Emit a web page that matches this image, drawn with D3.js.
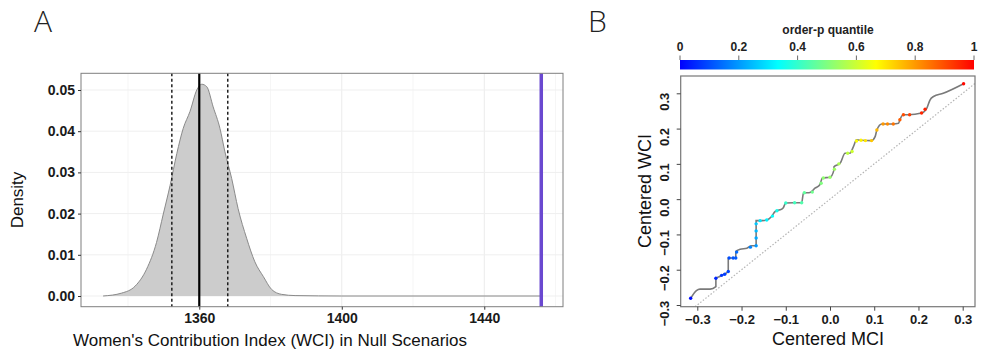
<!DOCTYPE html>
<html>
<head>
<meta charset="utf-8">
<script src="https://cdn.jsdelivr.net/npm/d3@7"></script>
<style>
  body { margin: 0; background: #fff; }
  svg { display: block; font-family: "Liberation Sans", Arial, sans-serif; }
</style>
</head>
<body>
<svg id="chart" width="987" height="352"></svg>
<script>
// ---- panel A data: null distribution of WCI ----
const densityX = [1333.0, 1338.2, 1342.0, 1345.2, 1348.0, 1349.9, 1351.8, 1353.7, 1355.5, 1357.4, 1359.3, 1360.7, 1362.1, 1363.9, 1365.8, 1367.2, 1369.1, 1370.9, 1373.3, 1375.6, 1378.0, 1380.3, 1383.1, 1386.9, 1400, 1456];
const densityY = [0, 0.0007, 0.0024, 0.0065, 0.0130, 0.0199, 0.0268, 0.0346, 0.0407, 0.0448, 0.0500, 0.0514, 0.0508, 0.0459, 0.0407, 0.0350, 0.0285, 0.0212, 0.0140, 0.0083, 0.0047, 0.0016, 0.0004, 0.0001, 0, 0];
const nullMean = 1360;
const nullCI = [1352.3, 1368];
const observedWCI = 1456;
const xTicksA = [1360, 1400, 1440];
const xMinorA = [1340, 1380, 1420, 1460];
const yTicksA = [0, 0.01, 0.02, 0.03, 0.04, 0.05];

// ---- panel B data: centered WCI vs centered MCI ----
const qqX = [-0.315, -0.302, -0.294, -0.271, -0.258, -0.258, -0.249, -0.240, -0.230, -0.230, -0.219, -0.213, -0.213, -0.203, -0.188, -0.177, -0.167, -0.167, -0.158, -0.143, -0.132, -0.124, -0.113, -0.106, -0.100, -0.083, -0.064, -0.060, -0.045, -0.034, -0.023, -0.017, 0.000, 0.009, 0.009, 0.023, 0.034, 0.045, 0.053, 0.060, 0.068, 0.094, 0.102, 0.106, 0.117, 0.143, 0.155, 0.158, 0.166, 0.177, 0.207, 0.219, 0.226, 0.234, 0.256, 0.302];
const qqY = [-0.281, -0.259, -0.255, -0.255, -0.248, -0.224, -0.219, -0.213, -0.205, -0.167, -0.167, -0.167, -0.148, -0.142, -0.139, -0.132, -0.132, -0.061, -0.061, -0.059, -0.049, -0.035, -0.030, -0.025, -0.011, -0.010, -0.010, 0.017, 0.019, 0.031, 0.041, 0.060, 0.062, 0.083, 0.092, 0.102, 0.130, 0.130, 0.149, 0.168, 0.167, 0.166, 0.177, 0.196, 0.213, 0.213, 0.215, 0.225, 0.239, 0.239, 0.244, 0.258, 0.281, 0.291, 0.300, 0.327];
// coloured points (x, y, order-p quantile)
const dotX = [-0.315, -0.258, -0.245, -0.238, -0.230, -0.228, -0.219, -0.213, -0.211, -0.180, -0.167, -0.167, -0.167, -0.167, -0.158, -0.143, -0.130, -0.120, -0.100, -0.080, -0.064, -0.058, -0.040, -0.020, -0.015, 0.000, 0.010, 0.020, 0.040, 0.050, 0.060, 0.070, 0.080, 0.094, 0.106, 0.120, 0.130, 0.143, 0.158, 0.166, 0.180, 0.207, 0.215, 0.302];
const dotY = [-0.281, -0.224, -0.216, -0.213, -0.205, -0.167, -0.167, -0.167, -0.150, -0.136, -0.132, -0.110, -0.090, -0.070, -0.061, -0.059, -0.048, -0.033, -0.011, -0.010, -0.010, 0.018, 0.020, 0.045, 0.060, 0.062, 0.085, 0.100, 0.130, 0.135, 0.165, 0.167, 0.166, 0.166, 0.196, 0.213, 0.213, 0.213, 0.225, 0.239, 0.239, 0.244, 0.255, 0.327];
const dotP = [0.02, 0.05, 0.07, 0.08, 0.09, 0.10, 0.11, 0.12, 0.14, 0.17, 0.20, 0.22, 0.24, 0.26, 0.30, 0.32, 0.34, 0.36, 0.40, 0.42, 0.44, 0.46, 0.48, 0.50, 0.52, 0.53, 0.54, 0.56, 0.58, 0.60, 0.66, 0.68, 0.70, 0.74, 0.76, 0.80, 0.82, 0.85, 0.88, 0.90, 0.92, 0.95, 0.96, 0.99];
const ticksB = [-0.3, -0.2, -0.1, 0.0, 0.1, 0.2, 0.3];
const legendTicks = [0, 0.2, 0.4, 0.6, 0.8, 1];

const svg = d3.select('#chart');

// ================= Panel A =================
const boxA = { left: 81, right: 563, top: 73.3, bottom: 306.7 };
const xA = d3.scaleLinear().domain([1326.8, 1462.1]).range([boxA.left, boxA.right]);
const yA = d3.scaleLinear().domain([0, 0.05]).range([296, 90]);

svg.append('text').attr('x', 34).attr('y', 32)
  .attr('font-size', 30).attr('fill', '#222').attr('font-family', '"Open Sans", sans-serif')
  .attr('font-weight', 300).text('A');

const gA = svg.append('g');
// grid
gA.selectAll('.minx').data(xMinorA).enter().append('line')
  .attr('x1', d => xA(d)).attr('x2', d => xA(d))
  .attr('y1', boxA.top).attr('y2', boxA.bottom)
  .attr('stroke', '#f4f4f4').attr('stroke-width', 0.8);
gA.selectAll('.gx').data(xTicksA).enter().append('line')
  .attr('x1', d => xA(d)).attr('x2', d => xA(d))
  .attr('y1', boxA.top).attr('y2', boxA.bottom)
  .attr('stroke', '#ebebeb').attr('stroke-width', 1);
gA.selectAll('.gy').data(yTicksA).enter().append('line')
  .attr('x1', boxA.left).attr('x2', boxA.right)
  .attr('y1', d => yA(d)).attr('y2', d => yA(d))
  .attr('stroke', '#efefef').attr('stroke-width', 1);

// density
const area = d3.area()
  .x((d, i) => xA(densityX[i]))
  .y0(yA(0))
  .y1((d, i) => yA(densityY[i]))
  .curve(d3.curveMonotoneX);
const line = d3.line()
  .x((d, i) => xA(densityX[i]))
  .y((d, i) => yA(densityY[i]))
  .curve(d3.curveMonotoneX);
gA.append('path').datum(densityX).attr('d', area).attr('fill', '#cccccc');
gA.append('path').datum(densityX).attr('d', line)
  .attr('fill', 'none').attr('stroke', '#8a8a8a').attr('stroke-width', 1);

// reference lines
gA.selectAll('.ci').data(nullCI).enter().append('line')
  .attr('x1', d => xA(d)).attr('x2', d => xA(d))
  .attr('y1', boxA.top).attr('y2', boxA.bottom)
  .attr('stroke', '#111').attr('stroke-width', 1.4).attr('stroke-dasharray', '3,2.5');
gA.append('line')
  .attr('x1', xA(nullMean)).attr('x2', xA(nullMean))
  .attr('y1', boxA.top).attr('y2', boxA.bottom)
  .attr('stroke', '#000').attr('stroke-width', 2.2);
gA.append('line')
  .attr('x1', xA(observedWCI)).attr('x2', xA(observedWCI))
  .attr('y1', boxA.top).attr('y2', boxA.bottom)
  .attr('stroke', '#6a48d0').attr('stroke-width', 3.5);

// border
gA.append('rect').attr('x', boxA.left).attr('y', boxA.top)
  .attr('width', boxA.right - boxA.left).attr('height', boxA.bottom - boxA.top)
  .attr('fill', 'none').attr('stroke', '#7f7f7f').attr('stroke-width', 1);

// axes
const axA_x = gA.append('g').attr('transform', `translate(0,${boxA.bottom})`)
  .call(d3.axisBottom(xA).tickValues(xTicksA).tickFormat(d3.format('d')).tickSize(3).tickPadding(3));
const axA_y = gA.append('g').attr('transform', `translate(${boxA.left},0)`)
  .call(d3.axisLeft(yA).tickValues(yTicksA).tickFormat(d3.format('.2f')).tickSize(3).tickPadding(3));
[axA_x, axA_y].forEach(a => {
  a.select('.domain').remove();
  a.selectAll('.tick line').attr('stroke', '#333');
  a.selectAll('.tick text').attr('font-size', 14).attr('fill', '#1a1a1a')
    .attr('font-family', '"Liberation Sans", Arial, sans-serif').attr('font-weight', 'bold');
});

svg.append('text').attr('transform', 'translate(23,200) rotate(-90)')
  .attr('text-anchor', 'middle').attr('font-size', 17).attr('fill', '#111').text('Density');
svg.append('text').attr('x', 270).attr('y', 346)
  .attr('text-anchor', 'middle').attr('font-size', 17).attr('fill', '#111')
  .text("Women's Contribution Index (WCI) in Null Scenarios");

// ================= Panel B =================
const boxB = { left: 680.7, right: 975, top: 76, bottom: 306.7 };
const xB = d3.scaleLinear().domain([-0.3, 0.3]).range([697.3, 962.7]);
const yB = d3.scaleLinear().domain([-0.3, 0.3]).range([305, 93.3]);
const color = d3.scaleLinear().domain([0, 1 / 3, 2 / 3, 1])
  .range(['#0000ff', '#00ffff', '#ffff00', '#ff0000']);

svg.append('text').attr('x', 588).attr('y', 32)
  .attr('font-size', 30).attr('fill', '#222').attr('font-family', '"Open Sans", sans-serif')
  .attr('font-weight', 300).text('B');

// colour legend
const cb = d3.scaleLinear().domain([0, 1]).range([680, 974]);
const defs = svg.append('defs');
const grad = defs.append('linearGradient').attr('id', 'jet');
color.domain().forEach(v => {
  grad.append('stop').attr('offset', v).attr('stop-color', color(v));
});
svg.append('rect').attr('x', cb(0)).attr('y', 60).attr('width', cb(1) - cb(0)).attr('height', 9.5)
  .attr('fill', 'url(#jet)');
svg.selectAll('.cbt').data(legendTicks).enter().append('line')
  .attr('x1', d => cb(d)).attr('x2', d => cb(d)).attr('y1', 55.5).attr('y2', 60)
  .attr('stroke', '#444').attr('stroke-width', 0.8);
svg.selectAll('.cbl').data(legendTicks).enter().append('text')
  .attr('x', d => cb(d)).attr('y', 51).attr('text-anchor', 'middle')
  .attr('font-size', 12).attr('font-weight', 'bold').attr('fill', '#222')
  .text(d => d === 0 || d === 1 ? d3.format('d')(d) : d3.format('.1f')(d));
svg.append('text').attr('x', 828).attr('y', 34).attr('text-anchor', 'middle')
  .attr('font-size', 12).attr('font-weight', 'bold').attr('fill', '#222').text('order-p quantile');

defs.append('clipPath').attr('id', 'clipB').append('rect')
  .attr('x', boxB.left).attr('y', boxB.top)
  .attr('width', boxB.right - boxB.left).attr('height', boxB.bottom - boxB.top);

const gB = svg.append('g');
const plotB = gB.append('g').attr('clip-path', 'url(#clipB)');
// y = x reference
plotB.append('line')
  .attr('x1', xB(-0.34)).attr('y1', yB(-0.34)).attr('x2', xB(0.36)).attr('y2', yB(0.36))
  .attr('stroke', '#b5b5b5').attr('stroke-width', 1.2).attr('stroke-dasharray', '1.5,1.8');
// curve
plotB.append('path').datum(qqX)
  .attr('d', d3.line().x((d, i) => xB(qqX[i])).y((d, i) => yB(qqY[i])).curve(d3.curveMonotoneX))
  .attr('fill', 'none').attr('stroke', '#7a7a7a').attr('stroke-width', 1.6);
plotB.selectAll('.dot').data(dotX).enter().append('circle')
  .attr('cx', (d, i) => xB(dotX[i])).attr('cy', (d, i) => yB(dotY[i]))
  .attr('r', 1.7).attr('fill', (d, i) => color(dotP[i]));

gB.append('rect').attr('x', boxB.left).attr('y', boxB.top)
  .attr('width', boxB.right - boxB.left).attr('height', boxB.bottom - boxB.top)
  .attr('fill', 'none').attr('stroke', '#777').attr('stroke-width', 1.2);

const axB_x = gB.append('g').attr('transform', `translate(0,${boxB.bottom})`)
  .call(d3.axisBottom(xB).tickValues(ticksB).tickFormat(d3.format('.1f')).tickSize(4).tickPadding(4));
const axB_y = gB.append('g').attr('transform', `translate(${boxB.left},0)`)
  .call(d3.axisLeft(yB).tickValues(ticksB).tickFormat(d3.format('.1f')).tickSize(4).tickPadding(4));
[axB_x, axB_y].forEach(a => {
  a.select('.domain').remove();
  a.selectAll('.tick line').attr('stroke', '#444');
  a.selectAll('.tick text').attr('font-size', 13).attr('fill', '#1a1a1a')
    .attr('font-family', '"Liberation Sans", Arial, sans-serif').attr('font-weight', 'bold');
});
axB_x.selectAll('.tick text').text(d => d3.format('.1f')(d).replace('-', '\u2212'));
axB_y.selectAll('.tick text')
  .text(d => d3.format('.1f')(d).replace('-', '\u2212'))
  .attr('text-anchor', 'middle').attr('dy', 0)
  .attr('transform', 'translate(-12,0) rotate(-90)');

svg.append('text').attr('transform', 'translate(651,191) rotate(-90)')
  .attr('text-anchor', 'middle').attr('font-size', 18).attr('fill', '#111').text('Centered WCI');
svg.append('text').attr('x', 828).attr('y', 345).attr('text-anchor', 'middle')
  .attr('font-size', 18).attr('fill', '#111').text('Centered MCI');
</script>
</body>
</html>
